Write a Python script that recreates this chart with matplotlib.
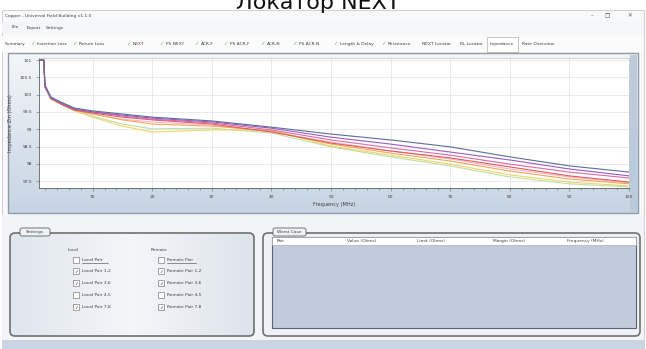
import numpy as np
import matplotlib
matplotlib.use("Agg")
from matplotlib import pyplot as plt
from matplotlib.patches import Rectangle, FancyBboxPatch
from matplotlib.ticker import MultipleLocator, FixedLocator

# -----------------------------------------------------------------------------
# DATA
# -----------------------------------------------------------------------------
freq_mhz = [1, 1.8, 2, 3, 5, 7, 10, 15, 20, 30, 40, 50, 60, 70, 80, 90, 100]

pair_blue = [101.00, 101.00, 100.28, 99.93, 99.76, 99.61, 99.53, 99.44, 99.35, 99.24, 99.06, 98.86, 98.69, 98.49, 98.20, 97.94, 97.76]
pair_purple = [101.00, 101.00, 100.25, 99.90, 99.73, 99.58, 99.50, 99.41, 99.32, 99.21, 99.03, 98.77, 98.57, 98.34, 98.11, 97.85, 97.65]
pair_magenta = [101.00, 101.00, 100.25, 99.90, 99.73, 99.58, 99.50, 99.38, 99.29, 99.18, 98.98, 98.69, 98.46, 98.25, 97.99, 97.76, 97.59]
pair_red = [101.00, 101.00, 100.22, 99.90, 99.70, 99.55, 99.47, 99.35, 99.27, 99.15, 98.92, 98.60, 98.37, 98.17, 97.91, 97.65, 97.47]
pair_orange = [101.00, 101.00, 100.22, 99.87, 99.70, 99.55, 99.44, 99.27, 99.15, 99.09, 98.95, 98.57, 98.31, 98.08, 97.79, 97.56, 97.42]
pair_yellow = [101.00, 101.00, 100.22, 99.87, 99.70, 99.53, 99.35, 99.09, 98.92, 98.98, 98.98, 98.51, 98.25, 97.99, 97.68, 97.47, 97.36]
pair_green = [101.00, 101.00, 100.22, 99.87, 99.70, 99.53, 99.38, 99.15, 99.01, 99.03, 98.89, 98.49, 98.20, 97.94, 97.62, 97.42, 97.33]
pair_pink = [101.00, 101.00, 100.25, 99.90, 99.73, 99.55, 99.44, 99.29, 99.21, 99.12, 98.92, 98.63, 98.37, 98.14, 97.85, 97.62, 97.45]

series = [
    (pair_pink, "#f4b6c8"),
    (pair_green, "#bfe0a0"),
    (pair_yellow, "#ecd46a"),
    (pair_orange, "#f2a65a"),
    (pair_red, "#e35a5a"),
    (pair_magenta, "#e06aa8"),
    (pair_purple, "#9a5cc0"),
    (pair_blue, "#5a6f96"),
]

y_ticks = [101, 100.5, 100, 99.5, 99, 98.5, 98, 97.5]
x_ticks = [10, 20, 30, 40, 50, 60, 70, 80, 90, 100]

tab_names = ["Summary", "Insertion Loss", "Return Loss", "NEXT", "PS NEXT", "ACR-F",
             "PS ACR-F", "ACR-N", "PS ACR-N", "Length & Delay", "Resistance",
             "NEXT Locator", "RL Locator", "Impedance", "Rate Overview"]
tab_checked = [False, True, True, True, True, True, True, True, True, True, True,
               False, False, False, False]
tab_x = [5, 37, 79, 133, 166, 201, 230, 267, 299, 340, 388, 422, 460, 490, 522]

local_pairs = ["Local Pair", "Local Pair 1,2", "Local Pair 3,6", "Local Pair 4,5", "Local Pair 7,8"]
remote_pairs = ["Remote Pair", "Remote Pair 1,2", "Remote Pair 3,6", "Remote Pair 4,5", "Remote Pair 7,8"]
pair_checked = [False, True, True, False, True]

worst_cols = ["Pair", "Value (Ohms)", "Limit (Ohms)", "Margin (Ohms)", "Frequency (MHz)"]
worst_col_x = [277, 347, 417, 493, 567]

# -----------------------------------------------------------------------------
# FIGURE
# -----------------------------------------------------------------------------
W, H = 646, 349
fig = plt.figure(figsize=(W / 100, H / 100), dpi=100)
fig.patch.set_facecolor("white")

ui = fig.add_axes([0, 0, 1, 1])
ui.set_xlim(0, W)
ui.set_ylim(H, 0)
ui.axis("off")

TXT = "#404040"
FS = 3.2

# title on top (cut off by the frame, as in the screenshot)
ui.text(318, 9, "Локатор NEXT", fontsize=16, ha="center", va="baseline", color="#111111")

# window frame
ui.add_patch(Rectangle((2, 10), W - 4, H - 10, facecolor="#f7f8fa", edgecolor="#c8c8c8", lw=0.6))
ui.text(5, 16, "Copper - Universal Field Building v1.1.0", fontsize=FS, va="center", color=TXT)
for x, s in [(592, "–"), (607, "❐"), (630, "✕")]:
    ui.text(x, 16, s, fontsize=4, ha="center", va="center", color="#555555")

# menu
ui.add_patch(Rectangle((2, 22), W - 4, 11, facecolor="#f4f6f9", edgecolor="none"))
for x, s in [(12, "File"), (27, "Export"), (46, "Settings")]:
    ui.text(x, 27.5, s, fontsize=FS, va="center", color=TXT)

# tabs
ui.add_patch(Rectangle((2, 36), W - 4, 16, facecolor="#fbfbfc", edgecolor="none"))
for name, chk, x in zip(tab_names, tab_checked, tab_x):
    if chk:
        ui.text(x - 5, 44, "✓", fontsize=4, ha="center", va="center", color="#6cbf6c")
    if name == "Impedance":
        ui.add_patch(Rectangle((x - 3, 37), 31, 15, facecolor="white", edgecolor="#b0b0b0", lw=0.5))
    ui.text(x, 44, name, fontsize=FS, va="center", color=TXT)

# chart panel with gradient
grad = np.linspace(0, 1, 100).reshape(-1, 1)
panel_cmap = matplotlib.colors.LinearSegmentedColormap.from_list("p", ["#f3f6f9", "#c6d4e3"])
ui.imshow(grad, extent=[8, 638, 213, 53], cmap=panel_cmap, aspect="auto", zorder=1)
ui.add_patch(Rectangle((8, 53), 630, 160, facecolor="none", edgecolor="#8f9aa6", lw=1.0, zorder=2))
ui.add_patch(Rectangle((630, 55), 7, 157, facecolor="#bccbdb", edgecolor="none", zorder=2))

# lower area
ui.add_patch(Rectangle((2, 215), W - 4, 125, facecolor="#f2f4f7", edgecolor="none"))
ui.add_patch(Rectangle((2, 340), W - 4, 9, facecolor="#c9d5e2", edgecolor="none"))

# settings box
grad2 = np.linspace(0, 1, 100).reshape(1, -1)
box_cmap = matplotlib.colors.LinearSegmentedColormap.from_list("b", ["#dfe6ee", "#f4f6f9", "#dde4ec"])
ui.imshow(grad2, extent=[10, 254, 336, 233], cmap=box_cmap, aspect="auto", zorder=1)
ui.add_patch(FancyBboxPatch((10, 233), 244, 103, boxstyle="round,pad=0,rounding_size=5",
                            facecolor="none", edgecolor="#707070", lw=1.2, zorder=2))
ui.add_patch(FancyBboxPatch((20, 228), 30, 8, boxstyle="round,pad=0,rounding_size=2",
                            facecolor="#eef2f6", edgecolor="#606060", lw=0.6, zorder=3))
ui.text(35, 232, "Settings", fontsize=FS, ha="center", va="center", color=TXT, zorder=4)

ui.text(68, 250, "Local", fontsize=FS, va="center", color=TXT, zorder=3)
ui.text(151, 250, "Remote", fontsize=FS, va="center", color=TXT, zorder=3)
rows_y = [260, 271, 283, 295, 307]
for cx, labels in [(76, local_pairs), (161, remote_pairs)]:
    for yy, lab, chk in zip(rows_y, labels, pair_checked):
        ui.add_patch(Rectangle((cx - 3, yy - 3), 6, 6, facecolor="white", edgecolor="#808080", lw=0.5, zorder=3))
        if chk:
            ui.text(cx, yy, "✓", fontsize=3.5, ha="center", va="center", color="#444444", zorder=4)
        ui.text(cx + 6, yy, lab, fontsize=FS, va="center", color=TXT, zorder=4)
        if lab in ("Local Pair", "Remote Pair"):
            ui.plot([cx + 6, cx + 6 + len(lab) * 2.6], [yy + 2.5, yy + 2.5], color=TXT, lw=0.4, zorder=4)

# worst case box
ui.add_patch(FancyBboxPatch((263, 233), 377, 103, boxstyle="round,pad=0,rounding_size=5",
                            facecolor="#eef2f6", edgecolor="#707070", lw=1.2, zorder=2))
ui.add_patch(FancyBboxPatch((273, 228), 33, 8, boxstyle="round,pad=0,rounding_size=2",
                            facecolor="#eef2f6", edgecolor="#606060", lw=0.6, zorder=3))
ui.text(289.5, 232, "Worst Case", fontsize=FS, ha="center", va="center", color=TXT, zorder=4)
ui.add_patch(Rectangle((272, 237), 364, 91, facecolor="#c0ccdb", edgecolor="#5a6470", lw=0.8, zorder=3))
ui.add_patch(Rectangle((272, 237), 364, 8, facecolor="white", edgecolor="#a0a0a0", lw=0.4, zorder=4))
for x, s in zip(worst_col_x, worst_cols):
    ui.text(x, 241, s, fontsize=FS, va="center", color=TXT, zorder=5)

# -----------------------------------------------------------------------------
# IMPEDANCE PLOT
# -----------------------------------------------------------------------------
ax = fig.add_axes([39 / W, 1 - 188 / H, (629 - 39) / W, (188 - 58) / H], zorder=5)
ax.set_facecolor("white")
for vals, col in series:
    ax.plot(freq_mhz, vals, color=col, lw=0.8)

ax.set_xlim(1, 100)
ax.set_ylim(97.3, 101.06)
ax.xaxis.set_major_locator(FixedLocator(x_ticks))
ax.xaxis.set_minor_locator(MultipleLocator(2))
ax.yaxis.set_major_locator(FixedLocator(y_ticks))
ax.set_xticklabels([str(v) for v in x_ticks])
ax.set_yticklabels([f"{v:g}" for v in y_ticks])
ax.grid(True, which="major", color="#e2e2e2", lw=0.5)
ax.tick_params(axis="both", which="major", labelsize=3.2, length=2, width=0.4,
               colors="#666666", labelcolor=TXT, pad=3)
ax.tick_params(axis="x", which="minor", length=1.5, width=0.4, colors="#666666")
for side in ("top", "right"):
    ax.spines[side].set_color("#c0c0c0")
    ax.spines[side].set_linewidth(0.5)
for side in ("left", "bottom"):
    ax.spines[side].set_color("#606060")
    ax.spines[side].set_linewidth(0.6)
ax.set_xlabel("Frequency (MHz)", fontsize=3.6, color=TXT, labelpad=2)
ax.set_ylabel("Impedance Zin (Ohms)", fontsize=3.6, color=TXT, labelpad=5)

fig.savefig("out.png", dpi=100)
